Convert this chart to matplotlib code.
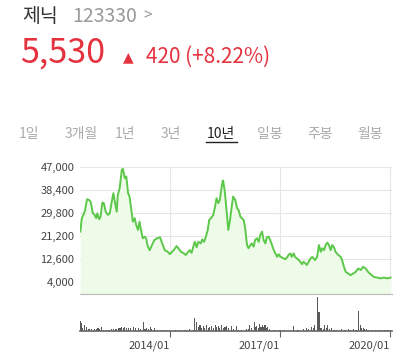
import numpy as np
import matplotlib
matplotlib.use("Agg")
import matplotlib.pyplot as plt
from matplotlib.lines import Line2D

plt.rcParams['font.family'] = ['Noto Sans CJK KR', 'DejaVu Sans']

# 종가 (10년, 주간 근사)
price_t = [2011.56, 2011.60, 2011.66, 2011.69, 2011.74, 2011.79, 2011.84, 2011.90, 2011.95, 2011.99,
           2012.02, 2012.07, 2012.11, 2012.16, 2012.20, 2012.25, 2012.31, 2012.36, 2012.40, 2012.46,
           2012.49, 2012.55, 2012.58, 2012.63, 2012.69, 2012.72, 2012.77, 2012.81, 2012.86, 2012.90,
           2012.95, 2012.99, 2013.04, 2013.08, 2013.13, 2013.17, 2013.22, 2013.26, 2013.31, 2013.35,
           2013.40, 2013.45, 2013.51, 2013.58, 2013.65, 2013.73, 2013.79, 2013.86, 2013.94, 2014.00,
           2014.06, 2014.12, 2014.18, 2014.23, 2014.30, 2014.36, 2014.43, 2014.50, 2014.54, 2014.59,
           2014.65, 2014.68, 2014.73, 2014.77, 2014.84, 2014.88, 2014.93, 2014.98, 2015.03, 2015.07,
           2015.12, 2015.18, 2015.23, 2015.27, 2015.32, 2015.36, 2015.41, 2015.44, 2015.45, 2015.50,
           2015.54, 2015.59, 2015.63, 2015.68, 2015.72, 2015.78, 2015.83, 2015.87, 2015.92, 2015.96,
           2016.01, 2016.05, 2016.10, 2016.14, 2016.19, 2016.23, 2016.28, 2016.32, 2016.37, 2016.42,
           2016.46, 2016.51, 2016.55, 2016.60, 2016.64, 2016.69, 2016.73, 2016.78, 2016.83, 2016.87,
           2016.92, 2016.96, 2017.01, 2017.05, 2017.10, 2017.14, 2017.19, 2017.23, 2017.28, 2017.32,
           2017.37, 2017.41, 2017.46, 2017.51, 2017.55, 2017.60, 2017.64, 2017.69, 2017.73, 2017.78,
           2017.83, 2017.88, 2017.95, 2018.01, 2018.06, 2018.11, 2018.15, 2018.20, 2018.24, 2018.29,
           2018.33, 2018.38, 2018.42, 2018.47, 2018.51, 2018.59, 2018.65, 2018.69, 2018.74, 2018.79,
           2018.86, 2018.92, 2018.99, 2019.06, 2019.13, 2019.20, 2019.26, 2019.33, 2019.40, 2019.47,
           2019.56, 2019.65, 2019.74, 2019.83, 2019.92, 2020.01]
price_v = [22800, 27800, 29600, 30800, 34800, 34600, 33900, 29600, 29000, 27800,
           29600, 27400, 28350, 33600, 33350, 30200, 29000, 29600, 32700, 37100,
           34600, 30200, 36400, 38900, 45800, 46100, 42700, 43300, 37100, 35800,
           30800, 26500, 27800, 25300, 23400, 26500, 22800, 20300, 20900, 20300,
           17200, 15900, 17800, 19700, 20300, 20700, 18400, 15900, 15300, 14400,
           15300, 16200, 17400, 16600, 15300, 14900, 14100, 15300, 15900, 14900,
           17800, 19000, 16950, 19000, 18400, 19900, 19000, 20900, 23400, 27100,
           27800, 29000, 32100, 35200, 33350, 34600, 39500, 41700, 41780, 37100,
           30800, 23400, 26500, 31500, 35800, 34600, 31500, 30800, 28350, 27800,
           27100, 24000, 17800, 16600, 17800, 18400, 17200, 19700, 20300, 19000,
           21500, 22800, 19700, 18400, 20700, 20900, 19700, 17800, 15900, 14700,
           13400, 14400, 13400, 13200, 12800, 12500, 13200, 14100, 14700, 13400,
           14700, 13400, 12800, 12200, 11600, 10700, 11600, 11000, 10400, 11600,
           12800, 13400, 12200, 13400, 17800, 15300, 16600, 15900, 17800, 18700,
           17800, 15900, 17800, 17000, 15300, 14100, 13400, 12200, 9700, 7800,
           7200, 6600, 7200, 7800, 9100, 8500, 9700, 9100, 7800, 6900,
           5900, 5700, 5400, 5700, 5400, 5700]

# 거래량
vol_t = [2011.56, 2011.59, 2011.62, 2011.67, 2011.73, 2011.77, 2011.82, 2011.87, 2011.95, 2012.00,
         2012.04, 2012.09, 2012.13, 2012.20, 2012.28, 2012.34, 2012.41, 2012.47, 2012.53, 2012.59,
         2012.64, 2012.68, 2012.73, 2012.77, 2012.82, 2012.86, 2012.92, 2013.00, 2013.06, 2013.14,
         2013.20, 2013.27, 2013.32, 2013.37, 2013.41, 2013.46, 2013.51, 2013.59, 2013.67, 2013.77,
         2013.86, 2014.00, 2014.14, 2014.27, 2014.41, 2014.54, 2014.63, 2014.68, 2014.73, 2014.77,
         2014.82, 2014.86, 2014.91, 2014.95, 2015.00, 2015.05, 2015.09, 2015.14, 2015.18, 2015.23,
         2015.27, 2015.32, 2015.36, 2015.41, 2015.46, 2015.50, 2015.54, 2015.59, 2015.68, 2015.73,
         2015.82, 2015.86, 2015.96, 2016.09, 2016.14, 2016.18, 2016.23, 2016.30, 2016.33, 2016.36,
         2016.41, 2016.45, 2016.48, 2016.52, 2016.55, 2016.59, 2016.63, 2016.66, 2016.72, 2016.86,
         2017.00, 2017.13, 2017.36, 2017.49, 2017.63, 2017.72, 2017.77, 2017.86, 2017.91, 2017.95,
         2018.02, 2018.06, 2018.10, 2018.14, 2018.19, 2018.22, 2018.26, 2018.30, 2018.35, 2018.41,
         2018.47, 2018.55, 2018.68, 2018.77, 2018.86, 2018.93, 2018.99, 2019.07, 2019.13, 2019.18,
         2019.22, 2019.27, 2019.31, 2019.36, 2019.42, 2019.50, 2019.59, 2019.67, 2019.77, 2019.86,
         2019.94, 2020.01]
vol_v = [1000, 730, 300, 570, 400, 200, 230, 150, 230, 150,
         300, 200, 400, 100, 100, 120, 170, 150, 200, 300,
         250, 400, 300, 400, 250, 330, 250, 400, 250, 330,
         200, 830, 200, 300, 150, 400, 150, 300, 100, 130,
         80, 70, 60, 60, 70, 170, 80, 1300, 900, 400,
         630, 300, 470, 250, 570, 300, 350, 470, 300, 570,
         350, 470, 300, 570, 300, 350, 470, 250, 470, 200,
         470, 130, 70, 230, 150, 570, 300, 830, 400, 470,
         300, 670, 400, 570, 350, 570, 300, 400, 150, 130,
         70, 60, 470, 80, 230, 330, 200, 400, 300, 570,
         3330, 1800, 250, 330, 200, 570, 300, 570, 200, 330,
         100, 80, 170, 80, 170, 100, 230, 100, 1900, 570,
         250, 330, 200, 230, 100, 80, 130, 80, 130, 80,
         60, 60]

yticks = [4000, 12600, 21200, 29800, 38400, 47000]
xticks = [2014, 2017, 2020]
xlabels = ['2014/01', '2017/01', '2020/01']
tabs = ['1일', '3개월', '1년', '3년', '10년', '일봉', '주봉', '월봉']
tab_x = [29, 81, 125, 171, 221, 270, 320, 370]

W, H = 404, 357
fig = plt.figure(figsize=(W / 100, H / 100), dpi=100)
red = '#e5323f'

def fx(x):
    return x / W

def fy(y):
    return 1 - y / H

# header
fig.text(fx(22), fy(16), '제닉', fontsize=14, color='#333333', va='center')
fig.text(fx(72), fy(16), '123330', fontsize=14, color='#999999', va='center')
fig.text(fx(143), fy(16), '>', fontsize=11, color='#999999', va='center')
fig.text(fx(20), fy(53), '5,530', fontsize=24.5, color=red, va='center')
fig.text(fx(128), fy(57), '▲', fontsize=10, color=red, va='center', ha='center',
         family=['DejaVu Sans'])
fig.text(fx(146), fy(57), '420 (+8.22%)', fontsize=15, color=red, va='center')

for lab, x in zip(tabs, tab_x):
    c = '#222222' if lab == '10년' else '#aaaaaa'
    fig.text(fx(x), fy(134), lab, fontsize=10, color=c, va='center', ha='center')
fig.add_artist(Line2D([fx(206), fx(237)], [fy(142), fy(142)], color='#222222', lw=1))

xmin, xmax = 2011.55, 2020.05

# price chart
ax = fig.add_axes([fx(80), fy(294), fx(392) - fx(80), fy(166.5) - fy(294)])
ax.fill_between(price_t, price_v, -1000, color='#eefbe8', lw=0)
ax.plot(price_t, price_v, color='#5cc84a', lw=1.4)
ax.set_xlim(xmin, xmax)
ax.set_ylim(-400, 47000)
ax.set_yticks(yticks)
ax.set_yticklabels(['{:,}'.format(v) for v in yticks], fontsize=8, color='#444444')
ax.set_xticks(xticks)
ax.tick_params(axis='x', length=0, labelbottom=False)
ax.tick_params(axis='y', length=0, pad=4)
ax.grid(color='#e6e6e6', lw=0.8)
ax.set_axisbelow(True)
for s in ['left', 'right', 'top']:
    ax.spines[s].set_visible(False)
ax.spines['bottom'].set_color('#b8b8b8')

# volume chart
axv = fig.add_axes([fx(80), fy(331), fx(392) - fx(80), fy(296) - fy(331)])
axv.bar(vol_t, vol_v, width=0.03, color='#5a5a5a', lw=0)
axv.set_xlim(xmin, xmax)
axv.set_ylim(0, 3400)
axv.set_yticks([])
axv.set_xticks(xticks)
axv.set_xticklabels(xlabels, fontsize=8, color='#444444', ha='right')
axv.tick_params(axis='x', length=4, color='#666666', pad=3)
for s in ['left', 'right', 'top']:
    axv.spines[s].set_visible(False)
axv.spines['bottom'].set_color('#666666')
axv.spines['bottom'].set_linewidth(1.2)

fig.savefig('out.png', dpi=100)
